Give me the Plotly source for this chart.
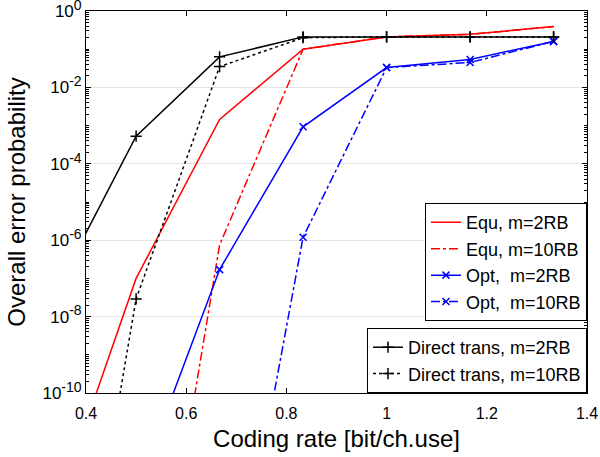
import plotly.graph_objects as go

# Coding rates [bit/ch.use]
rate = [1/3, 1/2, 2/3, 5/6, 1.0, 7/6, 4/3]

# Overall error probability per scheme
equ_m2 = [5e-14, 1.0e-7, 1.45e-3, 0.10, 0.21, 0.245, 0.39]
equ_m10 = [1e-30, 5e-20, 7.5e-7, 0.10, 0.21, 0.245, 0.39]
opt_m2 = [1e-19, 2.5e-13, 1.7e-7, 9.3e-4, 0.033, 0.054, 0.16]
opt_m10 = [1e-40, 1e-30, 2e-18, 1.2e-6, 0.033, 0.045, 0.16]
dir_m2 = [3.2e-8, 5.3e-4, 0.063, 0.21, 0.21, 0.21, 0.21]
dir_m10 = [4e-21, 2.9e-8, 0.035, 0.20, 0.21, 0.21, 0.21]

names = ["Equ, m=2RB", "Equ, m=10RB", "Opt, \u00a0m=2RB", "Opt, \u00a0m=10RB",
         "Direct trans, m=2RB", "Direct trans, m=10RB"]

ytick_vals = [1, 1e-2, 1e-4, 1e-6, 1e-8, 1e-10]
ytick_exp = ["0", "-2", "-4", "-6", "-8", "-10"]
ytick_text = ["10<sup><span style='font-size:14px'>%s</span></sup>" % e
              for e in ytick_exp]
xtick_vals = [0.4, 0.6, 0.8, 1.0, 1.2, 1.4]
xtick_text = ["0.4", "0.6", "0.8", "1", "1.2", "1.4"]

# minor tick positions on the log axis (every integer mantissa in each decade)
minor_vals = [m * 10.0 ** k for k in range(-10, 0) for m in range(1, 10)
              if not (m == 1 and k % 2 == 0)]

FONT = "Liberation Sans, Arial, sans-serif"

fig = go.Figure()

series = [
    (equ_m2, names[0], "red", "solid", None, 0, "legend"),
    (equ_m10, names[1], "red", "dashdot", None, 0, "legend"),
    (opt_m2, names[2], "blue", "solid", "x-thin", 7, "legend"),
    (opt_m10, names[3], "blue", "dashdot", "x-thin", 7, "legend"),
    (dir_m2, names[4], "black", "solid", "cross-thin", 8, "legend2"),
    (dir_m10, names[5], "black", "dot", "cross-thin", 8, "legend2"),
]

for ys, nm, col, dash, sym, msize, lg in series:
    mode = "lines+markers" if sym else "lines"
    kw = {}
    if sym:
        kw["marker"] = dict(symbol=sym, size=msize, color=col,
                            line=dict(color=col, width=1.5))
    fig.add_trace(go.Scatter(
        x=rate, y=ys, name=nm, mode=mode,
        line=dict(color=col, dash=dash, width=1.5),
        legend=lg, **kw))

fig.update_layout(
    width=600, height=457,
    margin=dict(l=86, r=13, t=11, b=64, autoexpand=False),
    paper_bgcolor="white", plot_bgcolor="white",
    font=dict(family=FONT, size=17, color="black"),
    legend=dict(
        x=1.0, y=0.497, xanchor="right", yanchor="top",
        bgcolor="white", bordercolor="black", borderwidth=1,
        font=dict(size=18, family=FONT), itemwidth=30,
        tracegroupgap=0),
    legend2=dict(
        x=1.0, y=0.0, xanchor="right", yanchor="bottom",
        bgcolor="white", bordercolor="black", borderwidth=1,
        font=dict(size=18, family=FONT), itemwidth=30,
        tracegroupgap=0),
)

fig.update_xaxes(
    range=[0.4, 1.4], tickvals=xtick_vals, ticktext=xtick_text,
    ticks="inside", ticklen=5, tickcolor="black",
    showline=True, linecolor="black", linewidth=1, mirror="ticks",
    showgrid=False, zeroline=False, automargin=False,
    ticklabeloverflow="allow", ticklabelstandoff=6,
    title=dict(text="Coding rate [bit/ch.use]", font=dict(size=24), standoff=8),
    tickfont=dict(size=16),
)
fig.update_yaxes(
    type="log", range=[-10, 0], tickvals=ytick_vals, ticktext=ytick_text,
    ticks="inside", ticklen=5, tickcolor="black",
    showline=True, linecolor="black", linewidth=1, mirror="ticks",
    showgrid=True, gridcolor="#e3e3e3", gridwidth=1, zeroline=False,
    automargin=False, ticklabeloverflow="allow",
    minor=dict(ticks="inside", ticklen=3, tickcolor="black",
               tickmode="array", tickvals=minor_vals, showgrid=False),
    title=dict(text="Overall error probability", font=dict(size=24), standoff=10),
    tickfont=dict(size=17),
)

fig.write_html(
    "out.html",
    config={"displayModeBar": False},
    post_script="document.body.style.margin='0';"
                "document.body.style.overflow='hidden';",
)
